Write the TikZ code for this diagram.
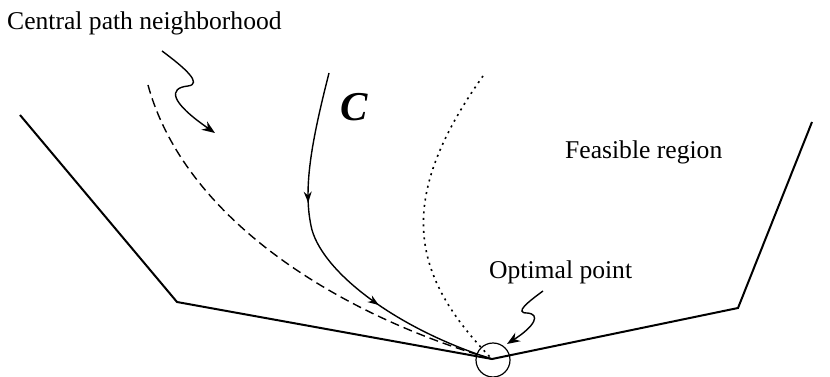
\documentclass[tikz,border=0pt]{standalone}
\usepackage{fontspec}
\setmainfont{Liberation Serif}
\usetikzlibrary{arrows.meta,decorations.markings}
\begin{document}
\begin{tikzpicture}[x=1pt,y=-1pt,
  edge/.style={line width=2pt,line join=miter},
  curv/.style={line width=1.4pt},
  lbl/.style={font=\fontsize{25.6}{28}\selectfont,inner sep=0pt,anchor=base west},
  squig/.style={line width=1.4pt,-{Stealth[length=13pt,width=10pt]}},
  midarrows/.style={postaction={decorate},decoration={markings,
     mark=at position 0.34 with {\arrow{Stealth[length=11pt,width=8pt]}},
     mark=at position 0.675 with {\arrow{Stealth[length=11pt,width=8pt]}}}}]
\useasboundingbox (0,0) rectangle (830,377);
% region boundary
\coordinate (L1) at (20,115);
\coordinate (L2) at (177,302);
\coordinate (O) at (492,359);
\coordinate (R2) at (738,308);
\coordinate (R1) at (812,122);
\draw[edge] (L1) -- (L2) -- (O) -- (R2) -- (R1);
% optimal circle
\node[draw,circle,line width=1.2pt,minimum size=34pt,inner sep=0pt] (circ) at (493,360) {};
% dashed
\coordinate (d0) at (148,85);
\draw[curv,dash pattern=on 9pt off 5pt] (d0) .. controls (185,220) and (340,315) .. (O);
% central path C
\coordinate (c0) at (329,73);
\coordinate (c1) at (312,230);
\draw[curv,midarrows] (c0) .. controls (312,140) and (302,190) .. (c1) .. controls (325,275) and (400,330) .. (O);
% dotted
\coordinate (p0) at (483,76);
\draw[curv,line width=1.6pt,dash pattern=on 2pt off 4.5pt] (p0) .. controls (395,200) and (410,275) .. (O);
% labels
\node[lbl] (cpn) at (7,30) {Central path neighborhood};
\node[lbl] (fr) at (565,159) {Feasible region};
\node[lbl] (op) at (489,278) {Optimal point};
\node[inner sep=0pt,font=\fontsize{41}{44}\selectfont\bfseries\itshape] (C) at (354,107) {C};
% squiggly arrows
\coordinate (s1) at (162,51);
\coordinate (e1) at (215,133);
\draw[squig] (s1) .. controls (185,68) and (203,84) .. (188,86) .. controls (168,88) and (170,102) .. (e1);
\coordinate (s2) at (543,291);
\coordinate (e2) at (507,344);
\draw[squig] (s2) .. controls (528,302) and (514,313) .. (527,313) .. controls (541,314) and (535,326) .. (e2);
\end{tikzpicture}
\end{document}
